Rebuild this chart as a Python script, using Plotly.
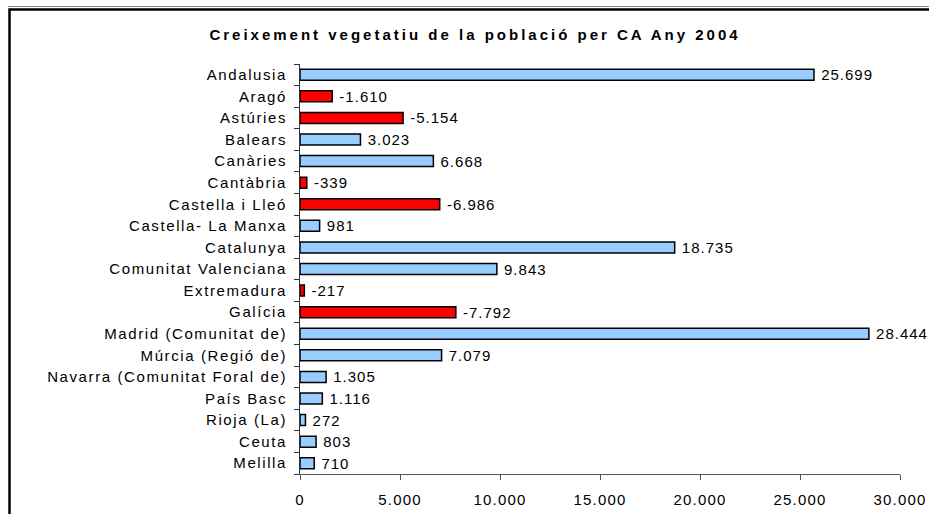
import plotly.graph_objects as go

regions = ["Andalusia", "Aragó", "Astúries", "Balears", "Canàries", "Cantàbria",
           "Castella i Lleó", "Castella- La Manxa", "Catalunya", "Comunitat Valenciana",
           "Extremadura", "Galícia", "Madrid (Comunitat de)", "Múrcia (Regió de)",
           "Navarra (Comunitat Foral de)", "País Basc", "Rioja (La)", "Ceuta", "Melilla"]
growth = [25699, -1610, -5154, 3023, 6668, -339, -6986, 981, 18735, 9843,
          -217, -7792, 28444, 7079, 1305, 1116, 272, 803, 710]
x_ticks = [0, 5000, 10000, 15000, 20000, 25000, 30000]

POS_COLOR = "#99CCFF"
NEG_COLOR = "#FF0000"

def fmt(v):
    return f"{v:,}".replace(",", ".")

def spaced(s, px_):
    return f'<span style="letter-spacing:{px_}px">{s}</span>'

magnitudes = [abs(v) for v in growth]
colors = [NEG_COLOR if v < 0 else POS_COLOR for v in growth]
labels = ['\u00a0' + spaced(fmt(v), 1) for v in growth]
ticktext = [spaced(r, 1.6) for r in regions]
xticktext = [spaced(fmt(v), 1.2) for v in x_ticks]

fig = go.Figure(go.Bar(
    x=magnitudes, y=regions, orientation="h",
    marker=dict(color=colors, line=dict(color="#000000", width=1.5)),
    text=labels, textposition="outside", constraintext="none", cliponaxis=False,
    textfont=dict(family="Liberation Sans, Arial", size=15, color="#000000"),
    hoverinfo="skip",
))

W, H = 929, 514
L, R, T, B = 300, 29, 64, 40

def px(xp):
    return (xp - L) / (W - L - R)

def py(yp):
    return (H - B - yp) / (H - T - B)

fig.update_layout(
    width=W, height=H,
    margin=dict(l=L, r=R, t=T, b=B, autoexpand=False),
    paper_bgcolor="white", plot_bgcolor="white",
    separators=",.",
    showlegend=False,
    bargap=0.49,
    font=dict(family="Liberation Sans, Arial", size=15, color="#000000"),
    title=dict(
        text='<b>' + spaced("Creixement vegetatiu de la població per CA Any 2004", 3) + '</b>',
        x=475 / W, xref="container", xanchor="center",
        y=1 - 35 / H, yref="container", yanchor="middle",
        font=dict(family="Liberation Sans, Arial", size=15, color="#000000"),
    ),
    xaxis=dict(
        range=[0, 30000], tickmode="array", tickvals=x_ticks, ticktext=xticktext,
        showgrid=False, zeroline=False,
        showline=True, linecolor="#555555", linewidth=1,
        ticks="outside", ticklen=5, tickcolor="#555555",
        ticklabelstandoff=7,
        tickfont=dict(size=15), fixedrange=True,
    ),
    yaxis=dict(
        autorange="reversed", tickmode="array", tickvals=regions, ticktext=ticktext,
        tickson="boundaries",
        showgrid=False, zeroline=False,
        showline=True, linecolor="#333333", linewidth=1,
        ticks="outside", ticklen=5, tickcolor="#333333",
        ticklabelstandoff=9,
        tickfont=dict(size=15), fixedrange=True,
    ),
    shapes=[
        dict(type="line", xref="paper", yref="paper",
             x0=px(8), x1=px(940), y0=py(6.5), y1=py(6.5),
             line=dict(color="#888888", width=1)),
        dict(type="rect", xref="paper", yref="paper",
             x0=px(9.5), x1=px(945), y0=py(9.5), y1=py(540),
             line=dict(color="#000000", width=2.5), fillcolor="rgba(0,0,0,0)"),
    ],
)

fig.write_html("out.html", config={"displayModeBar": False},
               post_script="document.body.style.margin='0';document.body.style.overflow='hidden';")
